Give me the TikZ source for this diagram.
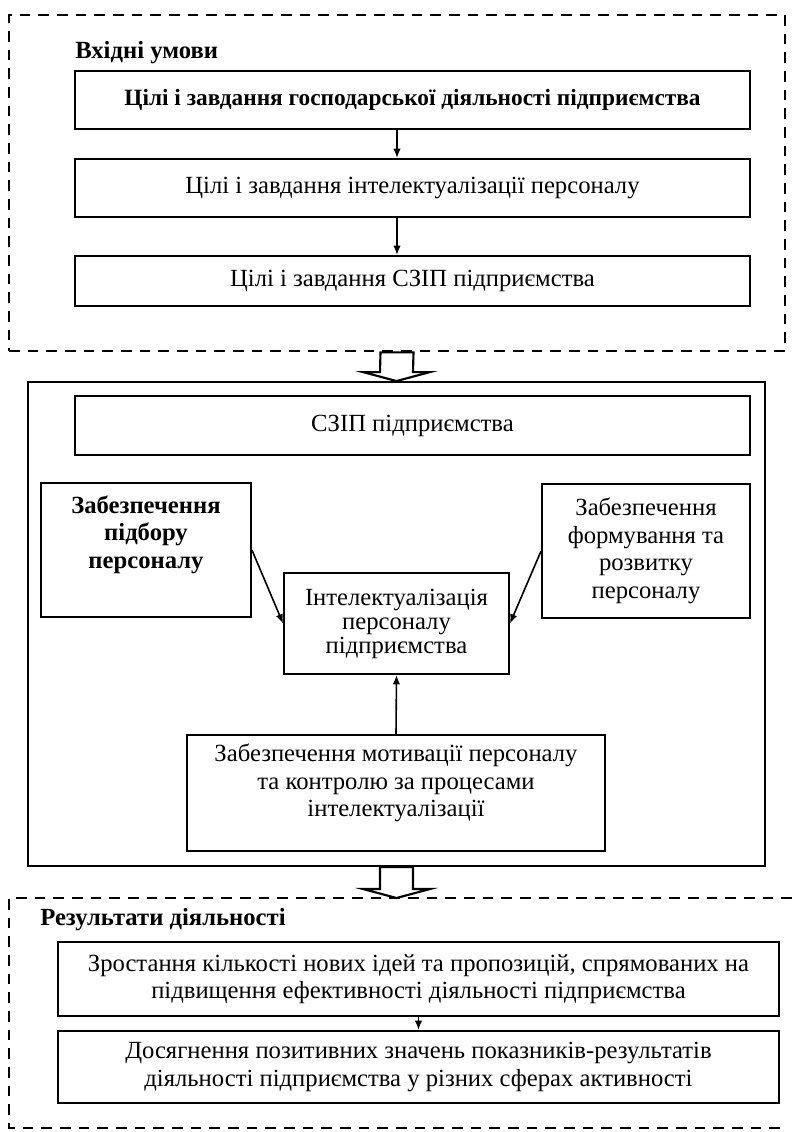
\documentclass[tikz,border=0pt]{standalone}
\usepackage{fontspec}
\setmainfont{Liberation Serif}
\usetikzlibrary{calc,arrows.meta}
\newcommand{\hollowdown}[2]{\draw [hollow] ($(#1)+(-16.5,0)$) -- ($(#2)+(-16.5,-9)$) -- ($(#2)+(-33.5,-9)$) -- (#2) -- ($(#2)+(33.5,-9)$) -- ($(#2)+(16.5,-9)$) -- ($(#1)+(16.5,0)$) -- cycle;}

\begin{document}
\begin{tikzpicture}[x=0.75pt,y=-0.75pt,>={Latex[length=7pt,width=5.5pt]}]
		\tikzstyle{every node}=[font=\fontsize{18.5}{20.6}\selectfont]
		\tikzstyle{every edge}=[draw,line width=1.2pt]
		\tikzstyle{box}=[draw,line width=1.4pt,align=center,inner sep=2pt]
		\tikzstyle{zone}=[draw,line width=2pt,dash pattern=on 8pt off 6pt]
		\tikzstyle{head}=[anchor=west,inner sep=0pt,font=\fontsize{18.5}{20.6}\selectfont\bfseries]
		\tikzstyle{hollow}=[draw,line width=1.6pt,fill=white,line join=miter]

		\useasboundingbox (0,0) rectangle (792,1132);

		\node (inzone) [zone,minimum width=776*0.75pt,minimum height=336*0.75pt] at (397,183) {};
		\node (inhead) [head] at (75,53) {Вхідні умови};
		\node (goal1) [box,minimum width=675*0.75pt,minimum height=58*0.75pt,font=\fontsize{17.5}{20.6}\selectfont\bfseries] at (412.5,100) {Цілі і завдання господарської діяльності підприємства};
		\node (goal2) [box,minimum width=675*0.75pt,minimum height=58*0.75pt] at (412.5,188) {Цілі і завдання інтелектуалізації персоналу};
		\node (goal3) [box,minimum width=675*0.75pt,minimum height=50*0.75pt] at (412.5,281) {Цілі і завдання СЗІП підприємства};
		\coordinate (axis) at (397,0);

		\node (core) [box,minimum width=737*0.75pt,minimum height=484*0.75pt] at (396.5,624) {};
		\node (szip) [box,minimum width=675*0.75pt,minimum height=59*0.75pt] at (412.5,425.5) {СЗІП підприємства};
		\node (select) [box,minimum width=210*0.75pt,minimum height=134*0.75pt,font=\fontsize{18.5}{20.6}\selectfont\bfseries] at (146,550) {Забезпечення\\підбору\\персоналу\\\strut};
		\node (develop) [box,minimum width=208*0.75pt,minimum height=134*0.75pt] at (646,551) {Забезпечення\\формування та\\розвитку\\персоналу};
		\node (intel) [box,minimum width=225*0.75pt,minimum height=101*0.75pt,font=\fontsize{18.5}{18}\selectfont] at (396.5,623.5) {Інтелектуалізація\\персоналу\\підприємства};
		\node (motiv) [box,minimum width=418*0.75pt,minimum height=116*0.75pt] at (396,793) {Забезпечення мотивації персоналу\\та контролю за процесами\\інтелектуалізації\\[-8pt]\strut};

		\coordinate (outtop) at (396.5,898);
		\draw [zone] (792,898) -- (9,898) -- (9,1128) -- (780,1128);
		\node (outhead) [head] at (40,920) {Результати діяльності};
		\node (res1) [box,minimum width=721*0.75pt,minimum height=74*0.75pt] at (418.5,979) {Зростання кількості нових ідей та пропозицій, спрямованих на\\підвищення ефективності діяльності підприємства};
		\node (res2) [box,minimum width=721*0.75pt,minimum height=72*0.75pt] at (418.5,1067) {Досягнення позитивних значень показників-результатів\\діяльності підприємства у різних сферах активності};

		\path [->] (goal1.south -| axis) edge (goal2.north -| axis);
		\path [->] (goal2.south -| axis) edge (goal3.north -| axis);
		\path [->] (select.east) edge (intel.west);
		\path [->] (develop.west) edge (intel.east);
		\path [->] (motiv.north) edge (intel.south);
		\path [->] (res1.south) edge (res2.north);

		\hollowdown{inzone.south}{core.north}
		\hollowdown{core.south}{outtop}
	\end{tikzpicture}
\end{document}
